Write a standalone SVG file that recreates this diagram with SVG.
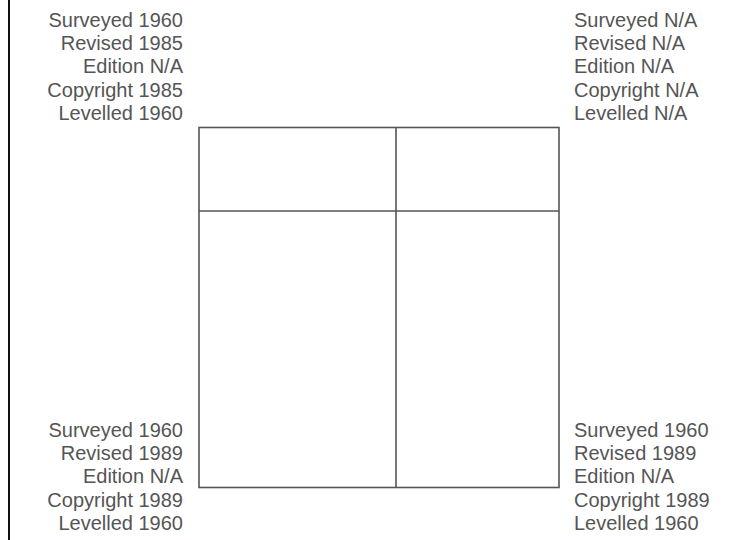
<svg xmlns="http://www.w3.org/2000/svg" width="747" height="540" viewBox="0 0 747 540">
<style>
text{font-family:"Liberation Sans",Arial,sans-serif;font-size:20px;fill:#555}
.l{text-anchor:end}
.ln{stroke:#555;stroke-width:1.6;fill:none}
</style>
<rect width="747" height="540" fill="#fff"/>
<line x1="9" y1="0" x2="9" y2="540" stroke="#111" stroke-width="2"/>
<g id="grid">
<rect class="ln" x="199" y="127.5" width="360" height="360"/>
<line class="ln" x1="199" y1="211" x2="559" y2="211"/>
<line class="ln" x1="396" y1="127.5" x2="396" y2="487.5"/>
</g>
<g id="tl">
<text class="l" x="183" y="26.5">Surveyed 1960</text>
<text class="l" x="183" y="50">Revised 1985</text>
<text class="l" x="183" y="73.3">Edition N/A</text>
<text class="l" x="183" y="96.7">Copyright 1985</text>
<text class="l" x="183" y="120">Levelled 1960</text>
</g>
<g id="tr">
<text x="574" y="26.5">Surveyed N/A</text>
<text x="574" y="50">Revised N/A</text>
<text x="574" y="73.3">Edition N/A</text>
<text x="574" y="96.7">Copyright N/A</text>
<text x="574" y="120">Levelled N/A</text>
</g>
<g id="bl">
<text class="l" x="183" y="436.5">Surveyed 1960</text>
<text class="l" x="183" y="460">Revised 1989</text>
<text class="l" x="183" y="483.3">Edition N/A</text>
<text class="l" x="183" y="506.7">Copyright 1989</text>
<text class="l" x="183" y="530">Levelled 1960</text>
</g>
<g id="br">
<text x="574" y="436.5">Surveyed 1960</text>
<text x="574" y="460">Revised 1989</text>
<text x="574" y="483.3">Edition N/A</text>
<text x="574" y="506.7">Copyright 1989</text>
<text x="574" y="530">Levelled 1960</text>
</g>
</svg>
